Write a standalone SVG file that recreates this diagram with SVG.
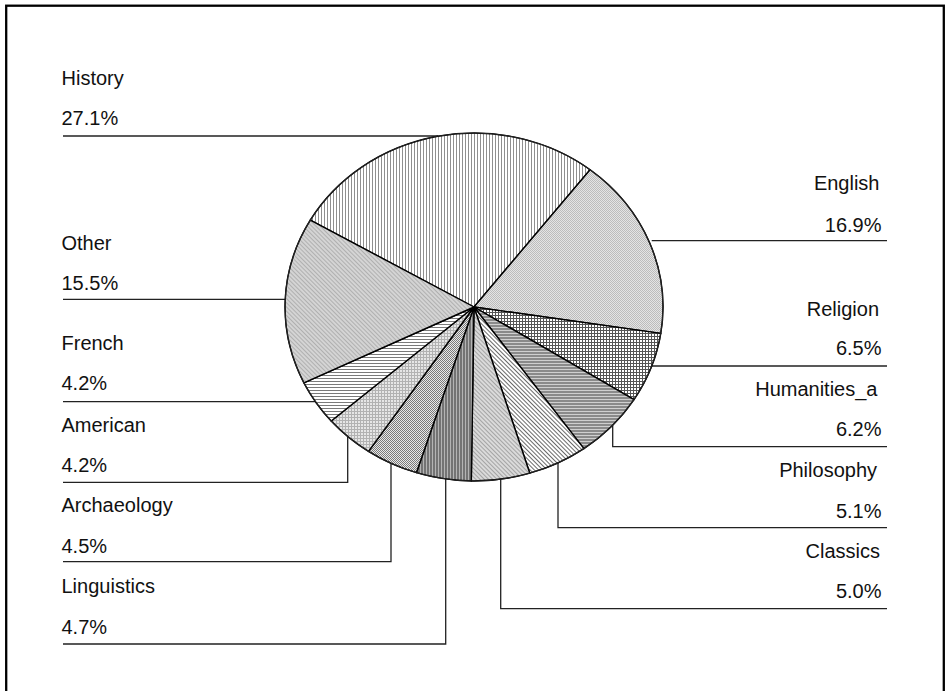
<svg xmlns="http://www.w3.org/2000/svg" width="949" height="691" viewBox="0 0 949 691">
<style>
.lbl{font-family:"Liberation Sans",Arial,sans-serif;font-size:20px;fill:#111}
.r{text-anchor:end}
.sl{stroke:#000;stroke-width:1.4;stroke-linejoin:round}
.ld{fill:none;stroke:#222;stroke-width:1.3}
</style>
<defs>
<pattern id="pHist" width="3" height="3" patternUnits="userSpaceOnUse"><rect width="3" height="3" fill="#fff"/><rect width="1" height="3" fill="#8f8f8f"/></pattern>
<pattern id="pEng" width="2" height="2" patternUnits="userSpaceOnUse"><rect width="2" height="2" fill="#e4e4e4"/><rect width="1" height="1" fill="#bcbcbc"/><rect x="1" y="1" width="1" height="1" fill="#bcbcbc"/></pattern>
<pattern id="pRel" width="3" height="3" patternUnits="userSpaceOnUse"><rect width="3" height="3" fill="#fff"/><rect width="1" height="3" fill="#555"/><rect width="3" height="1" fill="#555"/></pattern>
<pattern id="pHum" width="3" height="3" patternUnits="userSpaceOnUse"><rect width="3" height="3" fill="#8a8a8a"/><rect width="3" height="1" fill="#cfcfcf"/></pattern>
<pattern id="pPhil" width="3" height="3" patternUnits="userSpaceOnUse" patternTransform="rotate(-45)"><rect width="3" height="3" fill="#fff"/><rect width="1" height="3" fill="#6a6a6a"/></pattern>
<pattern id="pCla" width="3" height="3" patternUnits="userSpaceOnUse" patternTransform="rotate(-45)"><rect width="3" height="3" fill="#dadada"/><rect width="1" height="3" fill="#a4a4a4"/></pattern>
<pattern id="pLing" width="3" height="3" patternUnits="userSpaceOnUse"><rect width="3" height="3" fill="#747474"/><rect width="1" height="3" fill="#b4b4b4"/></pattern>
<pattern id="pArch" width="2" height="2" patternUnits="userSpaceOnUse"><rect width="2" height="2" fill="#e8e8e8"/><rect width="1" height="1" fill="#7a7a7a"/><rect x="1" y="1" width="1" height="1" fill="#7a7a7a"/></pattern>
<pattern id="pAm" width="3" height="3" patternUnits="userSpaceOnUse"><rect width="3" height="3" fill="#e6e6e6"/><rect width="1" height="3" fill="#b2b2b2"/><rect width="3" height="1" fill="#b2b2b2"/></pattern>
<pattern id="pFr" width="3" height="3" patternUnits="userSpaceOnUse"><rect width="3" height="3" fill="#fff"/><rect width="3" height="1" fill="#7a7a7a"/></pattern>
<pattern id="pOth" width="3" height="3" patternUnits="userSpaceOnUse" patternTransform="rotate(-45)"><rect width="3" height="3" fill="#d4d4d4"/><rect width="1" height="3" fill="#b0b0b0"/></pattern>
</defs>
<rect x="0" y="0" width="949" height="691" fill="#fff"/>
<rect x="6.2" y="5.7" width="937.6" height="700" fill="none" stroke="#000" stroke-width="2.3"/>

<g id="connectors">
<polyline class="ld" points="63,136 438,136"/>
<polyline class="ld" points="651.7,240.7 887,240.7"/>
<polyline class="ld" points="651.8,366 887,366"/>
<polyline class="ld" points="612.7,425.2 612.7,446.7 887,446.7"/>
<polyline class="ld" points="558,462.9 558,527.7 887,527.7"/>
<polyline class="ld" points="500.7,479.3 500.7,608.7 887,608.7"/>
<polyline class="ld" points="63,299.3 285.5,299.3"/>
<polyline class="ld" points="63,401.7 315.4,401.7"/>
<polyline class="ld" points="347.7,436.5 347.7,482.3 63,482.3"/>
<polyline class="ld" points="391,463.3 391,561.7 63,561.7"/>
<polyline class="ld" points="445.7,479.1 445.7,644 63,644"/>
</g>

<g id="history">
<path class="sl" fill="url(#pHist)" d="M474,307 L310.3,220.1 A189,174 0 0 1 590.1,169.7 Z"/>
<text class="lbl" x="61.5" y="85">History</text>
<text class="lbl" x="61.5" y="125">27.1%</text>
</g>
<g id="english">
<path class="sl" fill="url(#pEng)" d="M474,307 L590.1,169.7 A189,174 0 0 1 660.8,333.4 Z"/>
<text class="lbl r" x="879.5" y="190">English</text>
<text class="lbl r" x="881.5" y="231.7">16.9%</text>
</g>
<g id="religion">
<path class="sl" fill="url(#pRel)" d="M474,307 L660.8,333.4 A189,174 0 0 1 634,399.6 Z"/>
<text class="lbl r" x="879" y="315.7">Religion</text>
<text class="lbl r" x="881.5" y="355">6.5%</text>
</g>
<g id="humanities_a">
<path class="sl" fill="url(#pHum)" d="M474,307 L634,399.6 A189,174 0 0 1 583.9,448.6 Z"/>
<text class="lbl r" x="877.5" y="396">Humanities_a</text>
<text class="lbl r" x="881.5" y="436">6.2%</text>
</g>
<g id="philosophy">
<path class="sl" fill="url(#pPhil)" d="M474,307 L583.9,448.6 A189,174 0 0 1 529.8,473.2 Z"/>
<text class="lbl r" x="877" y="476.7">Philosophy</text>
<text class="lbl r" x="881.5" y="517.7">5.1%</text>
</g>
<g id="classics">
<path class="sl" fill="url(#pCla)" d="M474,307 L529.8,473.2 A189,174 0 0 1 471.3,481 Z"/>
<text class="lbl r" x="880" y="558.3">Classics</text>
<text class="lbl r" x="881.5" y="598.3">5.0%</text>
</g>
<g id="linguistics">
<path class="sl" fill="url(#pLing)" d="M474,307 L471.3,481 A189,174 0 0 1 416.4,472.7 Z"/>
<text class="lbl" x="61.5" y="593">Linguistics</text>
<text class="lbl" x="61.5" y="634">4.7%</text>
</g>
<g id="archaeology">
<path class="sl" fill="url(#pArch)" d="M474,307 L416.4,472.7 A189,174 0 0 1 368.5,451.4 Z"/>
<text class="lbl" x="61.5" y="511.7">Archaeology</text>
<text class="lbl" x="61.5" y="552.7">4.5%</text>
</g>
<g id="american">
<path class="sl" fill="url(#pAm)" d="M474,307 L368.5,451.4 A189,174 0 0 1 331.2,421 Z"/>
<text class="lbl" x="61.5" y="431.7">American</text>
<text class="lbl" x="61.5" y="471.7">4.2%</text>
</g>
<g id="french">
<path class="sl" fill="url(#pFr)" d="M474,307 L331.2,421 A189,174 0 0 1 303.9,382.8 Z"/>
<text class="lbl" x="61.5" y="350">French</text>
<text class="lbl" x="61.5" y="390">4.2%</text>
</g>
<g id="other">
<path class="sl" fill="url(#pOth)" d="M474,307 L303.9,382.8 A189,174 0 0 1 310.3,220.1 Z"/>
<text class="lbl" x="61.5" y="250">Other</text>
<text class="lbl" x="61.5" y="290">15.5%</text>
</g>
<ellipse cx="474" cy="307" rx="189" ry="174" fill="none" stroke="#222" stroke-width="1.2"/>
</svg>
